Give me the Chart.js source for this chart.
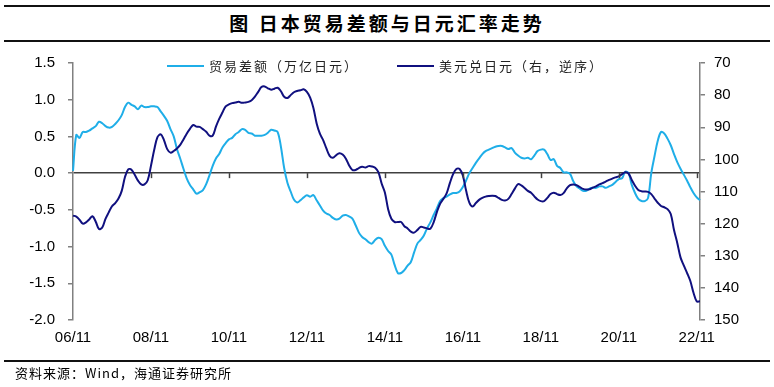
<!DOCTYPE html>
<html>
<head>
<meta charset="utf-8">
<script src="https://cdn.jsdelivr.net/npm/chart.js@4.4.1/dist/chart.umd.min.js"></script>
<style>
  body { margin: 0; background: #fff; }
  #wrap { position: relative; width: 774px; height: 387px; overflow: hidden; font-family: "Noto Sans CJK SC", sans-serif; }
  .rule { position: absolute; left: 4px; width: 766px; height: 2px; background: #111; }
  #title { position: absolute; top: 10px; left: 0; width: 774px; text-align: center; font-size: 19px; font-weight: bold; letter-spacing: 3px; color: #000; line-height: 26px; }
  #chart { position: absolute; left: 0; top: 0; }
  .leg { position: absolute; top: 57px; font-size: 13px; letter-spacing: 2px; color: #222; line-height: 18px; white-space: nowrap; }
  .leg span.ln { display: inline-block; width: 37px; height: 2px; vertical-align: middle; margin-right: 5px; margin-top: -2px; }
  #source { position: absolute; top: 364px; left: 15px; font-size: 13px; letter-spacing: 1px; color: #000; line-height: 18px; }
</style>
</head>
<body>
<div id="wrap">
  <div class="rule" style="top:5px"></div>
  <div id="title">图 日本贸易差额与日元汇率走势</div>
  <div class="rule" style="top:40px"></div>
  <canvas id="chart" width="774" height="387"></canvas>
  <div id="legend"></div>
  <div class="rule" style="top:360px"></div>
  <div id="source">资料来源：Wind，海通证券研究所</div>
</div>
<script>
// monthly categories, 2006-11 .. 2022-12
const months = [];
for (let y = 2006, m = 11; y < 2023; ) {
  months.push(String(y % 100).padStart(2, '0') + '/' + String(m).padStart(2, '0'));
  m++;
  if (m > 12) { m = 1; y++; }
}

const tickLabels = ['06/11', '08/11', '10/11', '12/11', '14/11', '16/11', '18/11', '20/11', '22/11'];

// trade balance, trillion yen (left axis)
const tradeBalance = [
  0.03, 0.52, 0.48, 0.56, 0.56, 0.58, 0.61, 0.64, 0.70, 0.68,
  0.64, 0.62, 0.63, 0.67, 0.72, 0.79, 0.90, 0.96, 0.93, 0.91,
  0.87, 0.92, 0.90, 0.90, 0.91, 0.91, 0.90, 0.84, 0.78, 0.71,
  0.60, 0.50, 0.33, 0.20, 0.06, -0.07, -0.16, -0.22, -0.28, -0.26,
  -0.23, -0.15, -0.03, 0.10, 0.20, 0.26, 0.35, 0.41, 0.46, 0.48,
  0.53, 0.56, 0.60, 0.59, 0.55, 0.54, 0.51, 0.51, 0.51, 0.52,
  0.55, 0.59, 0.58, 0.56, 0.36, 0.07, -0.13, -0.25, -0.36, -0.40,
  -0.37, -0.33, -0.30, -0.32, -0.30, -0.37, -0.44, -0.51, -0.55, -0.57,
  -0.61, -0.63, -0.62, -0.58, -0.57, -0.59, -0.62, -0.71, -0.81, -0.87,
  -0.90, -0.94, -0.96, -0.91, -0.88, -0.90, -0.99, -1.06, -1.11, -1.25,
  -1.36, -1.36, -1.32, -1.26, -1.21, -1.08, -0.96, -0.91, -0.85, -0.75,
  -0.67, -0.57, -0.48, -0.38, -0.34, -0.32, -0.29, -0.27, -0.27, -0.25,
  -0.19, -0.10, 0.00, 0.07, 0.14, 0.20, 0.26, 0.30, 0.32, 0.34,
  0.36, 0.37, 0.37, 0.35, 0.33, 0.34, 0.28, 0.24, 0.21, 0.20,
  0.21, 0.19, 0.24, 0.30, 0.32, 0.32, 0.26, 0.18, 0.19, 0.10,
  0.07, 0.01, 0.01, -0.01, -0.11, -0.18, -0.21, -0.24, -0.24, -0.21,
  -0.20, -0.20, -0.18, -0.18, -0.20, -0.18, -0.16, -0.12, -0.08, -0.07,
  0.02, 0.00, -0.16, -0.27, -0.35, -0.38, -0.38, -0.34, 0.00, 0.23,
  0.44, 0.56, 0.54, 0.47, 0.38, 0.26, 0.15, 0.06, -0.02, -0.10,
  -0.19, -0.27, -0.33, -0.37
];

// USD/JPY (right axis, reversed)
const usdJpy = [
  117.5, 117.8, 118.8, 120.0, 119.6, 118.7, 117.7, 119.4, 121.7, 121.2,
  118.5, 116.5, 114.6, 113.6, 112.2, 109.8, 105.5, 103.1, 103.2, 104.8,
  106.6, 107.8, 107.8, 106.5, 102.0, 97.0, 93.1, 92.2, 94.0, 96.8,
  97.9, 97.4, 96.6, 95.5, 93.8, 92.0, 90.5, 89.3, 89.8, 89.9,
  90.6, 91.4, 92.6, 92.6, 89.8, 87.4, 85.4, 83.5, 82.9, 82.5,
  82.3, 82.1, 82.4, 82.3, 82.1, 81.6, 80.5, 79.0, 77.5, 77.3,
  77.9, 78.3, 78.0, 77.7, 78.8, 80.5, 80.9, 80.0, 79.1, 78.7,
  78.5, 78.2, 79.0, 80.8, 84.0, 88.8, 92.0, 94.0, 96.6, 98.9,
  99.5, 98.7, 98.1, 98.5, 99.8, 101.9, 103.3, 103.3, 102.7, 102.3,
  102.5, 102.1, 102.2, 102.6, 104.0, 107.5, 110.3, 115.5, 118.5, 119.5,
  119.5, 119.5, 120.8, 121.5, 122.5, 122.8, 122.0, 121.0, 121.2, 121.5,
  121.6, 119.6, 116.4, 113.8, 112.3, 110.6, 107.4, 104.6, 103.0, 103.0,
  105.0, 109.7, 113.5, 114.7, 113.6, 112.6, 112.0, 111.6, 111.4, 111.3,
  111.4, 112.0, 112.6, 112.8, 112.3, 110.8, 109.1, 107.7, 108.1, 108.9,
  109.8, 110.4, 111.5, 112.5, 113.0, 113.0, 112.0, 110.8, 110.4, 110.8,
  111.1, 110.5, 109.0, 108.0, 107.8, 108.0, 108.6, 109.2, 109.4, 109.3,
  108.8, 108.4, 107.8, 107.4, 106.9, 106.4, 106.0, 105.6, 105.3, 104.6,
  104.0, 104.4, 106.4, 108.2, 109.5, 109.9, 110.0, 110.1, 110.8, 112.2,
  113.5, 114.5, 114.9, 115.5, 117.0, 122.0, 126.0, 130.5, 133.0, 135.3,
  137.8, 141.5, 144.2, 144.2
];

const LIGHT = '#1faee8';
const NAVY = '#10107f';
const tickFont = { family: '"Liberation Sans", Arial, sans-serif', size: 15 };

// small downward tick marks on the zero line at each labelled year
const zeroTicks = {
  id: 'zeroTicks',
  afterDraw(chart) {
    const x = chart.scales.x, y = chart.scales.y;
    const y0 = y.getPixelForValue(0);
    const c = chart.ctx;
    c.save();
    c.strokeStyle = '#404040';
    c.lineWidth = 1.5;
    months.forEach((m, i) => {
      if (tickLabels.includes(m) && i > 0) {
        const px = Math.round(x.getPixelForValue(i)) + 0.5;
        c.beginPath();
        c.moveTo(px, y0);
        c.lineTo(px, y0 + 5);
        c.stroke();
      }
    });
    c.restore();
  }
};

const chart = new Chart(document.getElementById('chart'), {
  type: 'line',
  data: {
    labels: months,
    datasets: [
      { label: '贸易差额（万亿日元）', data: tradeBalance, yAxisID: 'y', borderColor: LIGHT, order: 1 },
      { label: '美元兑日元（右，逆序）', data: usdJpy, yAxisID: 'y2', borderColor: NAVY, order: 0 }
    ]
  },
  options: {
    responsive: false,
    animation: false,
    devicePixelRatio: 1,
    layout: { padding: { top: 63, bottom: 0, left: 0, right: 0 } },
    elements: {
      line: { borderWidth: 2, tension: 0.35 },
      point: { radius: 0 }
    },
    plugins: { legend: { display: false }, tooltip: { enabled: false } },
    scales: {
      x: {
        grid: { display: false, drawTicks: false },
        border: { display: false },
        afterFit: s => { s.height = 67; },
        ticks: {
          autoSkip: false, maxRotation: 0, padding: 9,
          font: tickFont, color: '#000',
          callback: function (v, i) {
            const l = months[i];
            return tickLabels.includes(l) ? l : '';
          }
        }
      },
      y: {
        position: 'left',
        min: -2, max: 1.5,
        afterFit: s => { s.width = 73; },
        border: { color: '#808080', width: 1.5 },
        grid: {
          drawOnChartArea: true,
          tickLength: 5,
          tickColor: '#808080',
          lineWidth: 1.5,
          color: ctx => (ctx.tick && ctx.tick.value === 0) ? '#404040' : 'rgba(0,0,0,0)'
        },
        ticks: { stepSize: 0.5, padding: 13, font: tickFont, color: '#000', callback: v => v.toFixed(1) }
      },
      y2: {
        position: 'right',
        reverse: true,
        min: 70, max: 150,
        afterFit: s => { s.width = 74; },
        border: { color: '#808080', width: 1.5 },
        grid: { drawOnChartArea: false, tickLength: 5, tickColor: '#808080', lineWidth: 1.5 },
        ticks: { stepSize: 10, padding: 9, font: tickFont, color: '#000' }
      }
    }
  },
  plugins: [zeroTicks]
});

// legend built from the datasets, overlapping the top of the plot as in the source
const legendPos = [167, 397];
const legendEl = document.getElementById('legend');
chart.data.datasets.forEach((ds, i) => {
  const d = document.createElement('div');
  d.className = 'leg';
  d.style.left = legendPos[i] + 'px';
  d.innerHTML = '<span class="ln" style="background:' + ds.borderColor + '"></span>' + ds.label;
  legendEl.appendChild(d);
});
</script>
</body>
</html>
